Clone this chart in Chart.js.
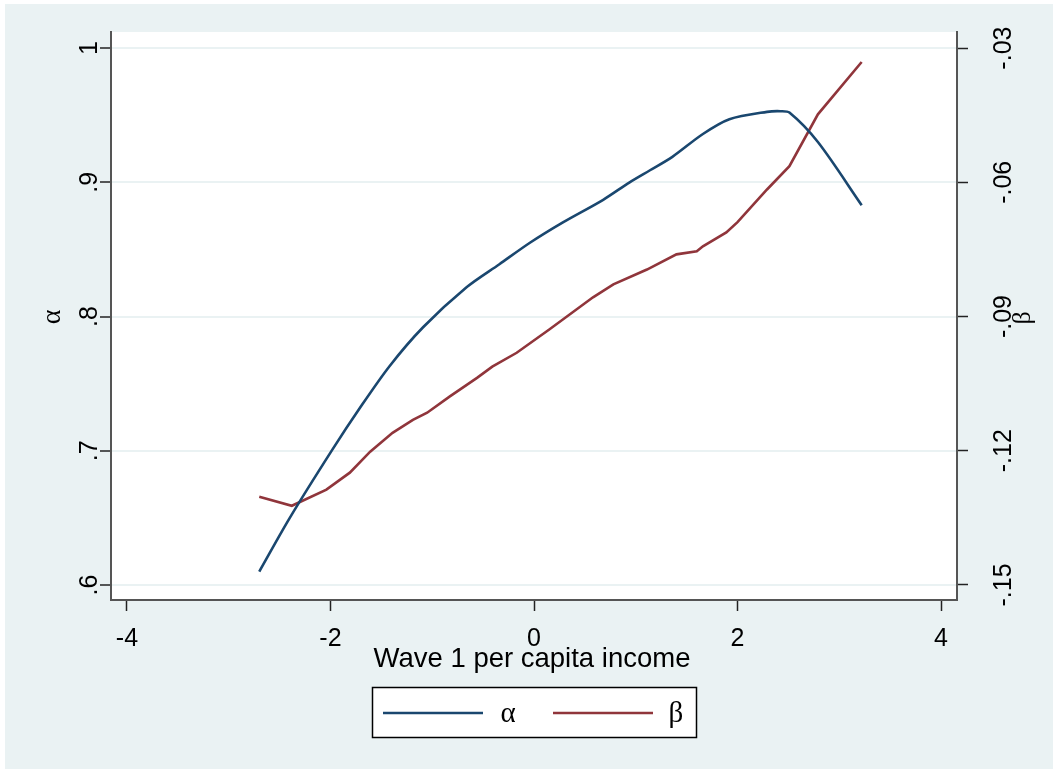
<!DOCTYPE html>
<html>
<head>
<meta charset="utf-8">
<script src="https://cdn.jsdelivr.net/npm/chart.js@4"></script>
<style>
  html, body { margin: 0; padding: 0; background: #ffffff; }
  #wrap { width: 1053px; height: 769px; }
</style>
</head>
<body>
<div id="wrap"><canvas id="c" width="1053" height="769"></canvas></div>
<script>
// Smoothed alpha (left axis) against wave 1 per capita income
const incomeAlpha = [-2.70, -2.40, -1.98, -1.71, -1.42, -1.09, -0.66, -0.34, -0.04, 0.28, 0.68, 0.94, 1.14, 1.36, 1.66, 1.92, 2.29, 2.42, 2.51, 2.79, 3.22];
const alphaValues = [0.610, 0.650, 0.701, 0.732, 0.763, 0.792, 0.822, 0.839, 0.855, 0.870, 0.887, 0.900, 0.909, 0.919, 0.936, 0.947, 0.9525, 0.953, 0.952, 0.930, 0.883];

// Smoothed beta (right axis) against wave 1 per capita income
const incomeBeta = [-2.70, -2.38, -2.04, -1.81, -1.61, -1.39, -1.19, -1.05, -0.83, -0.56, -0.41, -0.17, 0.15, 0.58, 0.78, 1.11, 1.40, 1.60, 1.66, 1.89, 2.00, 2.29, 2.51, 2.79, 3.22];
const betaValues = [-0.1303, -0.1323, -0.1287, -0.1249, -0.1202, -0.1160, -0.1131, -0.1115, -0.1079, -0.1037, -0.1012, -0.0981, -0.0929, -0.0857, -0.0828, -0.0795, -0.0761, -0.0754, -0.0743, -0.0712, -0.0689, -0.0616, -0.0564, -0.0448, -0.0331];

const xTicks = [-4, -2, 0, 2, 4];
const xTickLabels = ['-4', '-2', '0', '2', '4'];
const alphaTicks = [0.6, 0.7, 0.8, 0.9, 1];
const alphaTickLabels = ['.6', '.7', '.8', '.9', '1'];
const betaTicks = [-0.15, -0.12, -0.09, -0.06, -0.03];
const betaTickLabels = ['-.15', '-.12', '-.09', '-.06', '-.03'];
const seriesNames = ['\u03b1', '\u03b2'];
const xTitle = 'Wave 1 per capita income';

const BG = '#eaf2f3';
const BLUE = '#1a476f';
const RED = '#90353b';
const SANS = '"Liberation Sans", Arial, Helvetica, sans-serif';
const SERIF = '"Liberation Serif", "DejaVu Serif", serif';

function toPoints(xs, ys) { return xs.map((x, i) => ({ x: x, y: ys[i] })); }

function vText(ctx, text, x, y) {
  ctx.save();
  ctx.translate(x, y);
  ctx.rotate(-Math.PI / 2);
  ctx.textAlign = 'center';
  ctx.textBaseline = 'alphabetic';
  ctx.fillText(text, 0, 0);
  ctx.restore();
}

const backdrop = {
  id: 'backdrop',
  beforeDraw(chart) {
    const ctx = chart.ctx, a = chart.chartArea;
    ctx.save();
    ctx.fillStyle = '#ffffff';
    ctx.fillRect(0, 0, chart.width, chart.height);
    ctx.fillStyle = BG;
    ctx.fillRect(5, 4, chart.width - 5, chart.height - 4);
    ctx.fillStyle = '#ffffff';
    ctx.fillRect(a.left, a.top, a.right - a.left, a.bottom - a.top);
    ctx.restore();
  }
};

const annotations = {
  id: 'annotations',
  afterDraw(chart) {
    const ctx = chart.ctx;
    const xs = chart.scales.x, ya = chart.scales.yA, yb = chart.scales.yB;
    ctx.save();
    ctx.fillStyle = '#000000';

    // x tick labels and title
    ctx.font = '25px ' + SANS;
    ctx.textAlign = 'center';
    ctx.textBaseline = 'alphabetic';
    xTicks.forEach((v, i) => ctx.fillText(xTickLabels[i], xs.getPixelForValue(v), 646));
    ctx.font = '27.5px ' + SANS;
    ctx.fillText(xTitle, (xs.left + xs.right) / 2 - 2, 667);

    // rotated y tick labels
    ctx.font = '25px ' + SANS;
    alphaTicks.forEach((v, i) => vText(ctx, alphaTickLabels[i], 97, ya.getPixelForValue(v)));
    betaTicks.forEach((v, i) => vText(ctx, betaTickLabels[i], 1011, yb.getPixelForValue(v)));

    // axis titles
    ctx.font = '28px ' + SERIF;
    vText(ctx, seriesNames[0], 60, (ya.top + ya.bottom) / 2 + 1);
    ctx.font = '26px ' + SERIF;
    vText(ctx, seriesNames[1], 1030, (yb.top + yb.bottom) / 2 + 2);

    // legend box
    ctx.fillStyle = '#ffffff';
    ctx.fillRect(372, 687, 325, 51);
    ctx.strokeStyle = '#000000';
    ctx.lineWidth = 1.5;
    ctx.strokeRect(372.5, 687.5, 324, 50);
    const items = [
      { color: chart.data.datasets[0].borderColor, x0: 383, x1: 483, tx: 508, label: seriesNames[0] },
      { color: chart.data.datasets[1].borderColor, x0: 553, x1: 653, tx: 676, label: seriesNames[1] }
    ];
    ctx.font = '29px ' + SERIF;
    items.forEach(it => {
      ctx.strokeStyle = it.color;
      ctx.lineWidth = 2.5;
      ctx.beginPath();
      ctx.moveTo(it.x0, 713);
      ctx.lineTo(it.x1, 713);
      ctx.stroke();
      ctx.fillStyle = '#000000';
      ctx.textAlign = 'center';
      ctx.fillText(it.label, it.tx, 722);
    });
    ctx.restore();
  }
};

new Chart(document.getElementById('c'), {
  type: 'line',
  data: {
    datasets: [
      { label: seriesNames[0], data: toPoints(incomeAlpha, alphaValues), yAxisID: 'yA',
        borderColor: BLUE, borderWidth: 2.6, pointRadius: 0, tension: 0.3, fill: false },
      { label: seriesNames[1], data: toPoints(incomeBeta, betaValues), yAxisID: 'yB',
        borderColor: RED, borderWidth: 2.6, pointRadius: 0, tension: 0, fill: false }
    ]
  },
  options: {
    responsive: false,
    devicePixelRatio: 1,
    animation: false,
    layout: { padding: { top: 32, left: 0, right: 0, bottom: 0 } },
    plugins: { legend: { display: false }, tooltip: { enabled: false } },
    scales: {
      x: {
        type: 'linear', position: 'bottom', min: -4.157, max: 4.157,
        afterBuildTicks(s) { s.ticks = xTicks.map(v => ({ value: v })); },
        afterFit(s) { s.height = 169; },
        ticks: { display: false },
        grid: { drawOnChartArea: false, drawTicks: true, tickLength: 11, tickColor: '#222222', tickWidth: 1.5 },
        border: { display: true, color: '#555555', width: 2 }
      },
      yA: {
        type: 'linear', position: 'left', min: 0.5888, max: 1.012,
        afterBuildTicks(s) { s.ticks = alphaTicks.map(v => ({ value: v })); },
        afterFit(s) { s.width = 111; },
        ticks: { display: false },
        grid: { drawOnChartArea: true, color: BG, lineWidth: 2, drawTicks: true, tickLength: 11, tickColor: '#222222', tickWidth: 1.5 },
        border: { display: true, color: '#555555', width: 2 }
      },
      yB: {
        type: 'linear', position: 'right', min: -0.15336, max: -0.0264,
        afterBuildTicks(s) { s.ticks = betaTicks.map(v => ({ value: v })); },
        afterFit(s) { s.width = 96; },
        ticks: { display: false },
        grid: { drawOnChartArea: false, drawTicks: true, tickLength: 11, tickColor: '#222222', tickWidth: 1.5 },
        border: { display: true, color: '#555555', width: 2 }
      }
    }
  },
  plugins: [backdrop, annotations]
});
</script>
</body>
</html>
